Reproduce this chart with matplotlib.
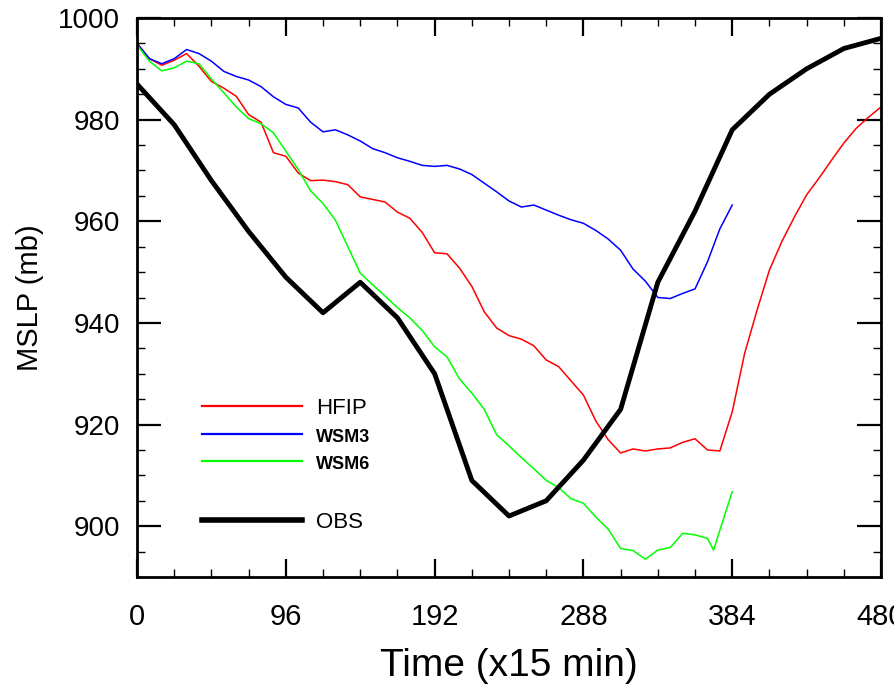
import matplotlib
matplotlib.use('Agg')
import matplotlib.pyplot as plt
from matplotlib.lines import Line2D
from matplotlib.ticker import MultipleLocator

plt.rcParams['font.family'] = ['Liberation Sans', 'DejaVu Sans']

# observed track, every 24 steps
obs_t = [0, 24, 48, 72, 96, 120, 144, 168, 192, 216, 240, 264, 288, 312, 336,
         360, 384, 408, 432, 456, 480]
obs_p = [987, 979, 968, 958, 949, 942, 948, 941, 930, 909, 902, 905, 913, 923, 948,
         962, 978, 985, 990, 994, 996]

# HFIP run
hfip_t = [0, 8, 16, 24, 32, 40, 48, 56, 64, 72, 80, 88, 96, 104, 112, 120, 128, 136,
          144, 152, 160, 168, 176, 184, 192, 200, 208, 216, 224, 232, 240, 248, 256,
          264, 272, 280, 288, 296, 304, 312, 320, 328, 336, 344, 352, 360, 368, 376,
          384, 392, 400, 408, 416, 424, 432, 440, 448, 456, 464, 472, 480]
hfip_p = [995, 992, 990.7, 991.7, 993, 990.5, 987.5, 986.2, 984.6, 981, 979.5, 973.5,
          972.8, 969.5, 968, 968.1, 967.8, 967.2, 964.8, 964.3, 963.8, 961.8, 960.6,
          957.8, 953.8, 953.6, 950.8, 947.2, 942.2, 939, 937.5, 936.8, 935.5, 932.7,
          931.4, 928.6, 925.8, 920.7, 917, 914.4, 915.2, 914.8, 915.2, 915.4, 916.5,
          917.2, 915, 914.8, 922.5, 934, 942.5, 950.4, 956, 960.8, 965.2, 968.5, 972,
          975.4, 978.3, 980.5, 982.5]

# WSM3 run
wsm3_t = [0, 8, 16, 24, 32, 40, 48, 56, 64, 72, 80, 88, 96, 104, 112, 120, 128, 136,
          144, 152, 160, 168, 176, 184, 192, 200, 208, 216, 224, 232, 240, 248, 256,
          264, 272, 280, 288, 296, 304, 312, 320, 328, 336, 344, 352, 360, 368, 376, 384]
wsm3_p = [995, 992, 991, 992, 993.8, 993, 991.5, 989.5, 988.5, 987.8, 986.5, 984.5,
          983, 982.3, 979.5, 977.6, 978, 977, 975.8, 974.3, 973.5, 972.5, 971.8, 971,
          970.8, 971, 970.3, 969.2, 967.5, 965.8, 964, 962.8, 963.2, 962.2, 961.2,
          960.3, 959.6, 958.2, 956.5, 954.3, 950.6, 948.2, 945, 944.8, 945.8, 946.7,
          952, 958.5, 963.2]

# WSM6 run
wsm6_t = [0, 8, 16, 24, 32, 40, 48, 56, 64, 72, 80, 88, 96, 104, 112, 120, 128, 136,
          144, 152, 160, 168, 176, 184, 192, 200, 208, 216, 224, 232, 240, 248, 256,
          264, 272, 280, 288, 296, 304, 312, 320, 328, 336, 344, 352, 360, 368, 372,
          376, 384]
wsm6_p = [994.7, 991.5, 989.6, 990.2, 991.5, 991, 988, 985.3, 982.5, 980.2, 979.2,
          977.4, 973.8, 970.2, 966, 963.5, 960.2, 955, 949.8, 947.5, 945.3, 943, 941,
          938.5, 935.3, 933.3, 929, 926.2, 923, 918, 915.8, 913.5, 911.3, 909, 907.6,
          905.4, 904.5, 901.8, 899.4, 895.6, 895.2, 893.5, 895.3, 895.8, 898.6, 898.3,
          897.6, 895.3, 899.2, 906.8]

fig = plt.figure(figsize=(8.95, 6.93), dpi=100)
ax = fig.add_axes([0.1531, 0.1674, 0.8313, 0.8066])

ax.plot(hfip_t, hfip_p, color='#ff0000', lw=1.1)
ax.plot(wsm3_t, wsm3_p, color='#0000ff', lw=1.1)
ax.plot(wsm6_t, wsm6_p, color='#00ff00', lw=1.1)
ax.plot(obs_t, obs_p, color='black', lw=3.5)

ax.set_xlim(0, 480)
ax.set_ylim(890, 1000)
ax.xaxis.set_major_locator(MultipleLocator(96))
ax.xaxis.set_minor_locator(MultipleLocator(24))
ax.yaxis.set_major_locator(MultipleLocator(20))
ax.yaxis.set_minor_locator(MultipleLocator(5))

for s in ax.spines.values():
    s.set_linewidth(2)
ax.tick_params(which='both', direction='in', top=True, right=True)
ax.tick_params(axis='x', which='major', length=13, width=1.6, labelsize=21, pad=19)
ax.tick_params(axis='y', which='major', length=17, width=1.6, labelsize=20, pad=12)
ax.tick_params(which='minor', length=6, width=1)

ax.set_xlabel('Time (x15 min)', fontsize=28, labelpad=12)
ax.set_ylabel('MSLP (mb)', fontsize=21, labelpad=10)

# legend with a blank row before OBS
handles = [Line2D([], [], color='#ff0000', lw=1.6),
           Line2D([], [], color='#0000ff', lw=1.6),
           Line2D([], [], color='#00ff00', lw=1.6),
           Line2D([], [], color='none'),
           Line2D([], [], color='black', lw=4)]
labels = ['HFIP', 'WSM3', 'WSM6', ' ', 'OBS']
leg = ax.legend(handles, labels, loc='upper left', bbox_to_anchor=(0.088, 0.320),
                frameon=False, fontsize=16, handlelength=4.5, handletextpad=0.6,
                labelspacing=0.33, borderpad=0, borderaxespad=0)
txt = leg.get_texts()
txt[1].set_fontsize(13)
txt[1].set_fontweight('bold')
txt[2].set_fontsize(13)
txt[2].set_fontweight('bold')
txt[3].set_fontsize(19)

fig.savefig('out.png', dpi=100)
